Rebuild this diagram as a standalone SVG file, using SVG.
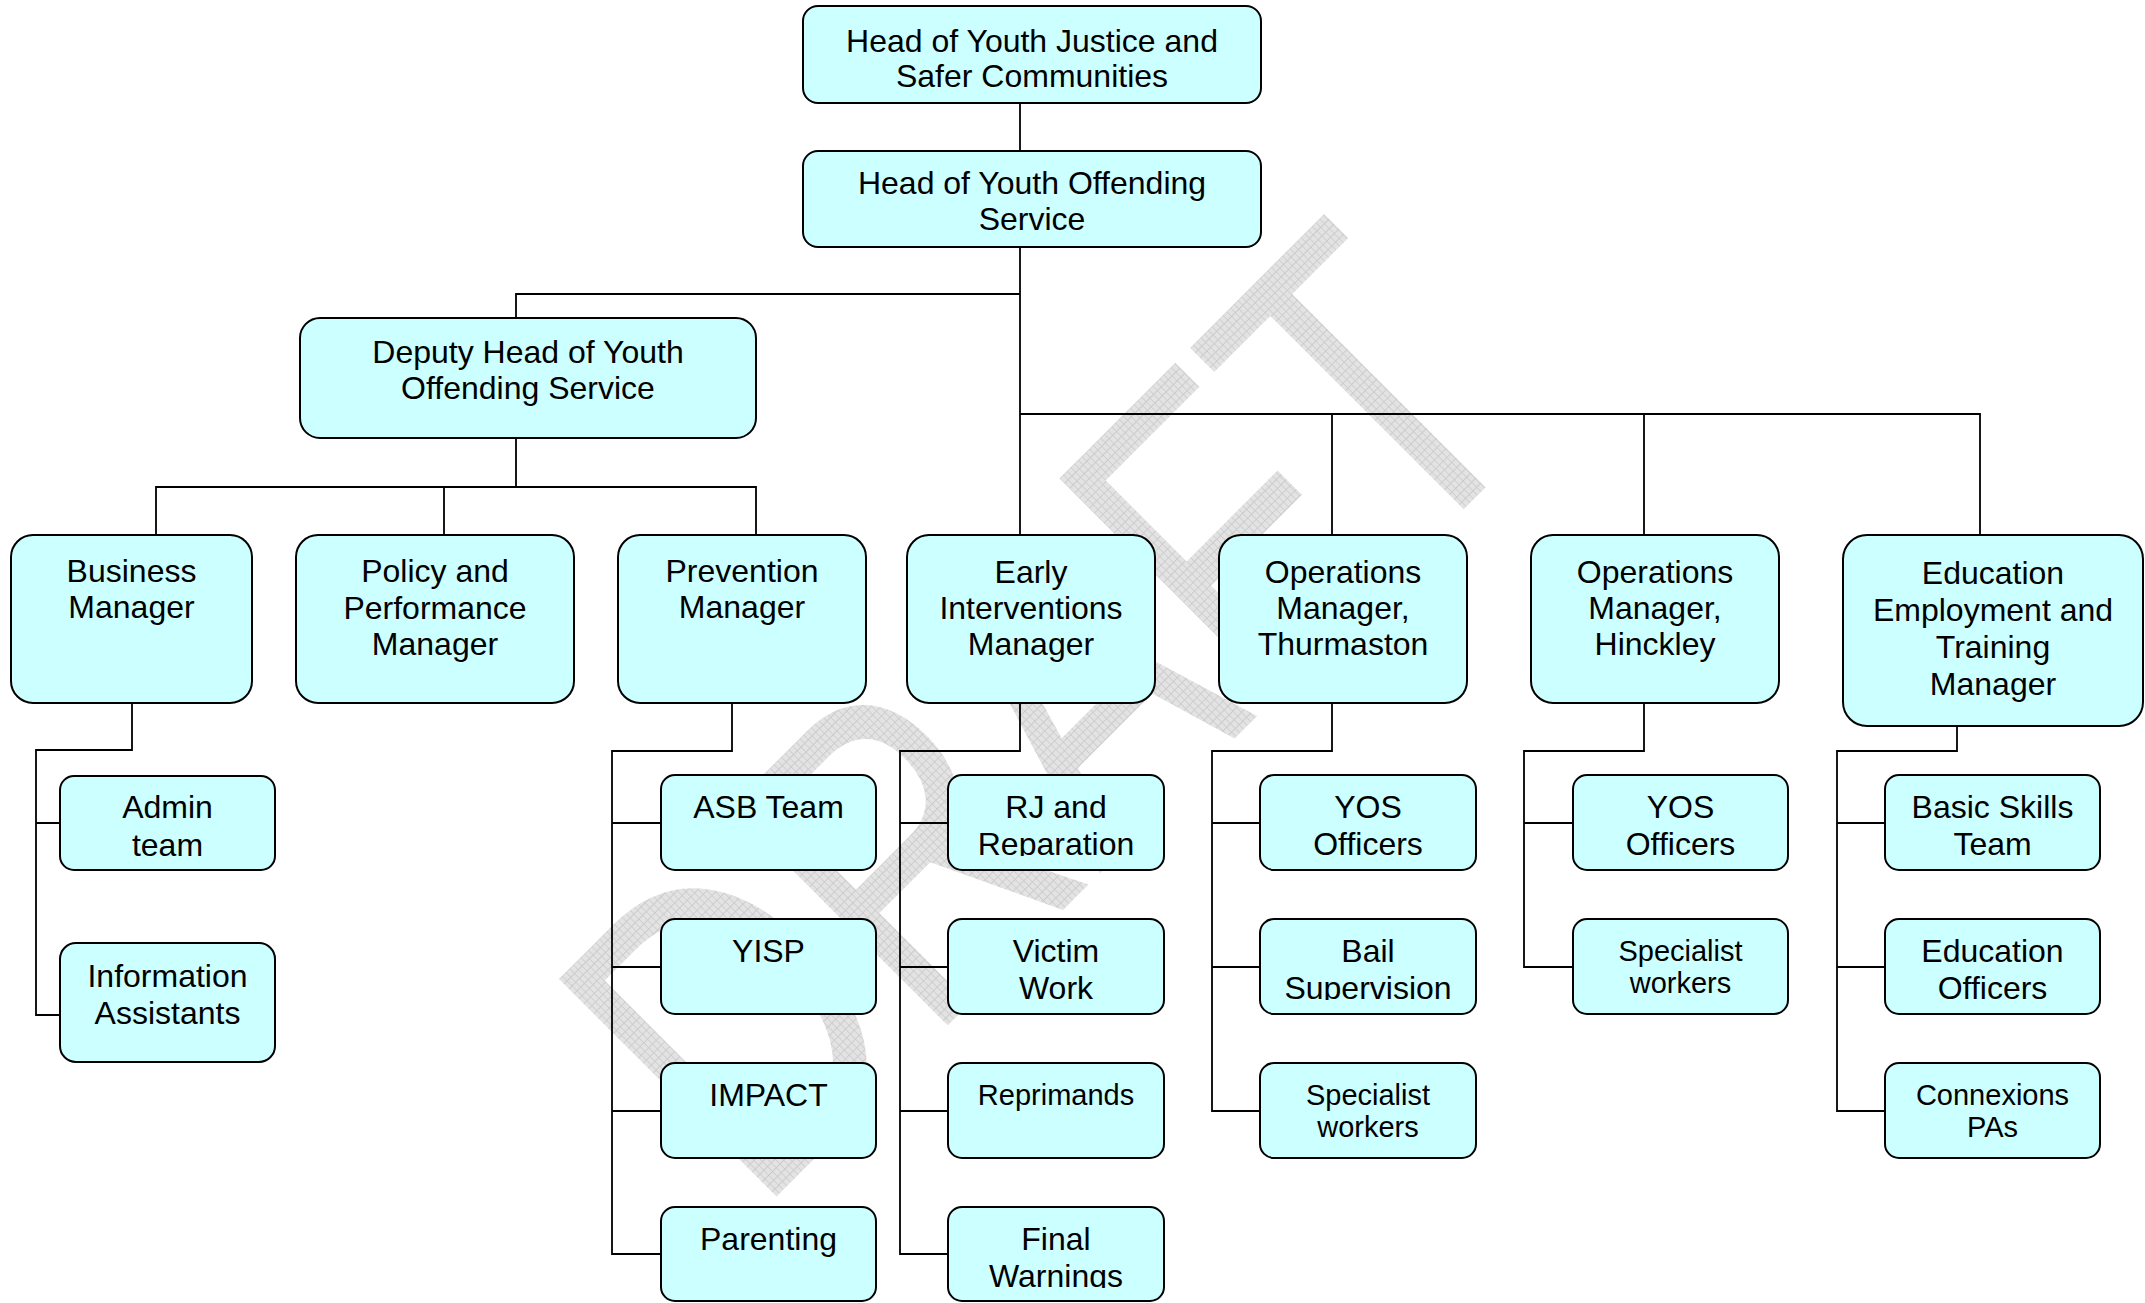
<svg xmlns="http://www.w3.org/2000/svg" width="2145" height="1303" viewBox="0 0 2145 1303">
<style>
.box{fill:#CCFFFF;stroke:#000;stroke-width:2}
.t{font-family:"Liberation Sans",Arial,sans-serif;font-size:32px;text-anchor:middle;fill:#000}
.s{font-size:29px}
.conn path{fill:none;stroke:#000;stroke-width:1.8}
</style>
<defs>
<pattern id="hatch" width="7" height="7" patternUnits="userSpaceOnUse">
<rect width="7" height="7" fill="#e3e3e3"/>
<path d="M0 0.5H7M0.5 0V7" stroke="#cacaca" stroke-width="1"/>
</pattern>
<clipPath id="cRJ"><rect x="948" y="775" width="216" height="81"/></clipPath>
<clipPath id="cBail"><rect x="1260" y="919" width="216" height="81"/></clipPath>
<clipPath id="cFW"><rect x="948" y="1207" width="216" height="81"/></clipPath>
</defs>
<rect width="2145" height="1303" fill="#fff"/>
<g id="watermark">
<text transform="translate(757,1216) rotate(-45) scale(0.75,1)" font-family="Liberation Sans, Arial, sans-serif" font-size="447" fill="url(#hatch)">DRAFT</text>
</g>
<g id="connectors" class="conn">
<path d="M1020 103V151"/>
<path d="M1020 247V535"/>
<path d="M1020 294H516V318"/>
<path d="M1020 414H1980V535M1332 414V535M1644 414V535"/>
<path d="M516 438V487M156 535V487H756V535M444 487V535"/>
<path d="M132 702V750H36V1015H60M36 823H60"/>
<path d="M732 702V751H612V1254H661M612 823H661M612 967H661M612 1111H661"/>
<path d="M1020 702V751H900V1254H948M900 823H948M900 967H948M900 1111H948"/>
<path d="M1332 702V751H1212V1111H1260M1212 823H1260M1212 967H1260"/>
<path d="M1644 702V751H1524V967H1573M1524 823H1573"/>
<path d="M1957 726V751H1837V1111H1885M1837 823H1885M1837 967H1885"/>
</g>
<g id="n-head-yjsc"><rect class="box" x="803" y="6" width="458" height="97" rx="15"/>
<text class="t"><tspan x="1032" y="52">Head of Youth Justice and</tspan><tspan x="1032" y="87">Safer Communities</tspan></text></g>
<g id="n-head-yos"><rect class="box" x="803" y="151" width="458" height="96" rx="15"/>
<text class="t"><tspan x="1032" y="194">Head of Youth Offending</tspan><tspan x="1032" y="230">Service</tspan></text></g>
<g id="n-deputy"><rect class="box" x="300" y="318" width="456" height="120" rx="20"/>
<text class="t"><tspan x="528" y="363">Deputy Head of Youth</tspan><tspan x="528" y="399">Offending Service</tspan></text></g>
<g id="n-business"><rect class="box" x="11" y="535" width="241" height="168" rx="22"/>
<text class="t"><tspan x="131.5" y="582">Business</tspan><tspan x="131.5" y="618">Manager</tspan></text></g>
<g id="n-policy"><rect class="box" x="296" y="535" width="278" height="168" rx="22"/>
<text class="t"><tspan x="435" y="582">Policy and</tspan><tspan x="435" y="618.5">Performance</tspan><tspan x="435" y="655">Manager</tspan></text></g>
<g id="n-prevention"><rect class="box" x="618" y="535" width="248" height="168" rx="22"/>
<text class="t"><tspan x="742" y="582">Prevention</tspan><tspan x="742" y="618">Manager</tspan></text></g>
<g id="n-early"><rect class="box" x="907" y="535" width="248" height="168" rx="22"/>
<text class="t"><tspan x="1031" y="583">Early</tspan><tspan x="1031" y="619">Interventions</tspan><tspan x="1031" y="655">Manager</tspan></text></g>
<g id="n-ops-thurmaston"><rect class="box" x="1219" y="535" width="248" height="168" rx="22"/>
<text class="t"><tspan x="1343" y="583">Operations</tspan><tspan x="1343" y="619">Manager,</tspan><tspan x="1343" y="655">Thurmaston</tspan></text></g>
<g id="n-ops-hinckley"><rect class="box" x="1531" y="535" width="248" height="168" rx="22"/>
<text class="t"><tspan x="1655" y="583">Operations</tspan><tspan x="1655" y="619">Manager,</tspan><tspan x="1655" y="655">Hinckley</tspan></text></g>
<g id="n-eet"><rect class="box" x="1843" y="535" width="300" height="191" rx="24"/>
<text class="t"><tspan x="1993" y="584">Education</tspan><tspan x="1993" y="621">Employment and</tspan><tspan x="1993" y="658">Training</tspan><tspan x="1993" y="695">Manager</tspan></text></g>
<g id="n-admin"><rect class="box" x="60" y="776" width="215" height="94" rx="14"/>
<text class="t"><tspan x="167.5" y="818">Admin</tspan><tspan x="167.5" y="856">team</tspan></text></g>
<g id="n-info"><rect class="box" x="60" y="943" width="215" height="119" rx="16"/>
<text class="t"><tspan x="167.5" y="987">Information</tspan><tspan x="167.5" y="1024">Assistants</tspan></text></g>
<g id="n-asb"><rect class="box" x="661" y="775" width="215" height="95" rx="14"/>
<text class="t" x="768.5" y="818">ASB Team</text></g>
<g id="n-yisp"><rect class="box" x="661" y="919" width="215" height="95" rx="14"/>
<text class="t" x="768.5" y="962">YISP</text></g>
<g id="n-impact"><rect class="box" x="661" y="1063" width="215" height="95" rx="14"/>
<text class="t" x="768.5" y="1106">IMPACT</text></g>
<g id="n-parenting"><rect class="box" x="661" y="1207" width="215" height="94" rx="14"/>
<text class="t" x="768.5" y="1250">Parenting</text></g>
<g id="n-rj"><rect class="box" x="948" y="775" width="216" height="95" rx="14"/>
<text class="t" clip-path="url(#cRJ)"><tspan x="1056" y="818">RJ and</tspan><tspan x="1056" y="855">Reparation</tspan></text></g>
<g id="n-victim"><rect class="box" x="948" y="919" width="216" height="95" rx="14"/>
<text class="t"><tspan x="1056" y="962">Victim</tspan><tspan x="1056" y="999">Work</tspan></text></g>
<g id="n-reprimands"><rect class="box" x="948" y="1063" width="216" height="95" rx="14"/>
<text class="t s" x="1056" y="1105">Reprimands</text></g>
<g id="n-final"><rect class="box" x="948" y="1207" width="216" height="94" rx="14"/>
<text class="t" clip-path="url(#cFW)"><tspan x="1056" y="1250">Final</tspan><tspan x="1056" y="1287">Warnings</tspan></text></g>
<g id="n-yos-t"><rect class="box" x="1260" y="775" width="216" height="95" rx="14"/>
<text class="t"><tspan x="1368" y="818">YOS</tspan><tspan x="1368" y="855">Officers</tspan></text></g>
<g id="n-bail"><rect class="box" x="1260" y="919" width="216" height="95" rx="14"/>
<text class="t" clip-path="url(#cBail)"><tspan x="1368" y="962">Bail</tspan><tspan x="1368" y="999">Supervision</tspan></text></g>
<g id="n-spec-t"><rect class="box" x="1260" y="1063" width="216" height="95" rx="14"/>
<text class="t s"><tspan x="1368" y="1105">Specialist</tspan><tspan x="1368" y="1137">workers</tspan></text></g>
<g id="n-yos-h"><rect class="box" x="1573" y="775" width="215" height="95" rx="14"/>
<text class="t"><tspan x="1680.5" y="818">YOS</tspan><tspan x="1680.5" y="855">Officers</tspan></text></g>
<g id="n-spec-h"><rect class="box" x="1573" y="919" width="215" height="95" rx="14"/>
<text class="t s"><tspan x="1680.5" y="961">Specialist</tspan><tspan x="1680.5" y="993">workers</tspan></text></g>
<g id="n-basic"><rect class="box" x="1885" y="775" width="215" height="95" rx="14"/>
<text class="t"><tspan x="1992.5" y="818">Basic Skills</tspan><tspan x="1992.5" y="855">Team</tspan></text></g>
<g id="n-eduoff"><rect class="box" x="1885" y="919" width="215" height="95" rx="14"/>
<text class="t"><tspan x="1992.5" y="962">Education</tspan><tspan x="1992.5" y="999">Officers</tspan></text></g>
<g id="n-connexions"><rect class="box" x="1885" y="1063" width="215" height="95" rx="14"/>
<text class="t s"><tspan x="1992.5" y="1105">Connexions</tspan><tspan x="1992.5" y="1137">PAs</tspan></text></g>
</svg>
